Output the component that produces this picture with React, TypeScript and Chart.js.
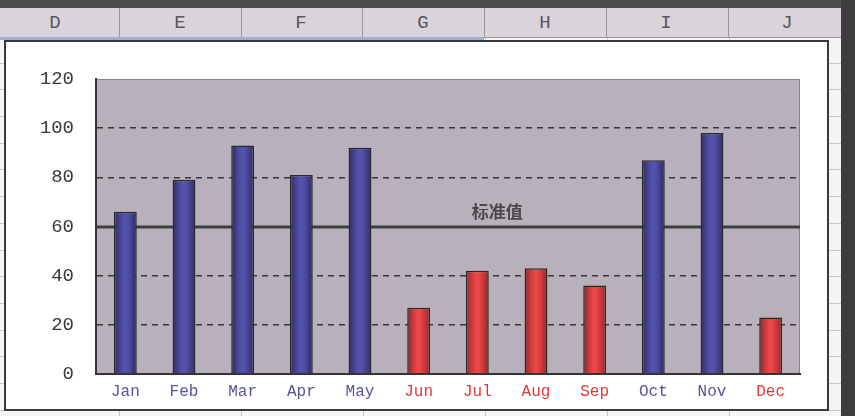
import React, { useEffect, useRef } from "react";
import { Chart, registerables } from "chart.js";

Chart.register(...registerables);

const months = ["Jan", "Feb", "Mar", "Apr", "May", "Jun", "Jul", "Aug", "Sep", "Oct", "Nov", "Dec"];
const values = [66, 79, 93, 81, 92, 27, 42, 43, 36, 87, 98, 23];
const standardValue = 60;
const standardLabel = "标准值";
const yMin = 0;
const yMax = 120;
const yStep = 20;
const columnLetters = ["D", "E", "F", "G", "H", "I", "J"];

const BLUE_TEXT = "#55529f";
const RED_TEXT = "#e2383a";
const BAR_PCT = 0.39;

function isAbove(v: number) {
  return v >= standardValue;
}

const plotPlugin = {
  id: "plotDecor",
  beforeDraw(chart: any) {
    const { ctx, chartArea } = chart;
    ctx.save();
    ctx.fillStyle = "#b8b0ba";
    ctx.fillRect(chartArea.left, chartArea.top, chartArea.right - chartArea.left, chartArea.bottom - chartArea.top);
    ctx.strokeStyle = "#8a8490";
    ctx.lineWidth = 1;
    ctx.beginPath();
    ctx.moveTo(chartArea.left, chartArea.top + 0.5);
    ctx.lineTo(chartArea.right - 0.5, chartArea.top + 0.5);
    ctx.lineTo(chartArea.right - 0.5, chartArea.bottom);
    ctx.stroke();
    ctx.restore();
  },
  beforeDatasetsDraw(chart: any) {
    const { ctx, chartArea, scales } = chart;
    const y = Math.round(scales.y.getPixelForValue(standardValue));
    ctx.save();
    ctx.strokeStyle = "#3e3e42";
    ctx.lineWidth = 3;
    ctx.beginPath();
    ctx.moveTo(chartArea.left, y);
    ctx.lineTo(chartArea.right, y);
    ctx.stroke();
    ctx.fillStyle = "#48474c";
    ctx.font = "bold 17px 'Noto Sans CJK SC'";
    ctx.textAlign = "center";
    ctx.textBaseline = "middle";
    const lx = chartArea.left + (chartArea.right - chartArea.left) * 0.57;
    ctx.fillText(standardLabel, lx, y - 15);
    ctx.restore();
  },
};

function barGradient(ctx: any) {
  const v = values[ctx.dataIndex];
  const above = isAbove(v);
  const chart = ctx.chart;
  const xs = chart.scales && chart.scales.x;
  const mid = above ? "#5552ab" : "#ec4646";
  if (!xs || ctx.type !== "data" || !isFinite(xs.width)) return mid;
  const cx = xs.getPixelForValue(ctx.dataIndex);
  const w = (xs.width / months.length) * BAR_PCT;
  const g = chart.ctx.createLinearGradient(cx - w / 2, 0, cx + w / 2, 0);
  if (above) {
    g.addColorStop(0, "#2c2a58");
    g.addColorStop(0.3, "#4a489c");
    g.addColorStop(0.5, "#5754ae");
    g.addColorStop(0.7, "#4a489c");
    g.addColorStop(1, "#2c2a58");
  } else {
    g.addColorStop(0, "#8a2a2c");
    g.addColorStop(0.3, "#d83c3e");
    g.addColorStop(0.5, "#ee4a4a");
    g.addColorStop(0.7, "#d83c3e");
    g.addColorStop(1, "#8a2a2c");
  }
  return g;
}

function ChartBox() {
  const ref = useRef<HTMLCanvasElement>(null);
  useEffect(() => {
    if (!ref.current) return;
    const chart = new Chart(ref.current, {
      type: "bar",
      data: {
        labels: months,
        datasets: [
          {
            data: values,
            backgroundColor: barGradient as any,
            borderColor: "#2a2a2e",
            borderWidth: 1.5,
            categoryPercentage: 1,
            barPercentage: BAR_PCT,
          },
        ],
      },
      options: {
        animation: false,
        responsive: false,
        maintainAspectRatio: false,
        layout: { padding: { top: 37, right: 27, left: 0, bottom: 0 } },
        plugins: { legend: { display: false }, tooltip: { enabled: false } },
        scales: {
          x: {
            grid: { display: false, drawTicks: false },
            border: { color: "#333338", width: 2 },
            afterFit: (s: any) => {
              s.height = 35;
            },
            ticks: {
              padding: 8,
              color: months.map((_, i) => (isAbove(values[i]) ? BLUE_TEXT : RED_TEXT)),
              font: { family: "'Liberation Mono', monospace", size: 16 },
            },
          },
          y: {
            min: yMin,
            max: yMax,
            afterFit: (s: any) => {
              s.width = 90;
            },
            ticks: {
              stepSize: yStep,
              padding: 22,
              color: "#3a3a3a",
              font: { family: "'Liberation Mono', monospace", size: 19 },
            },
            grid: {
              drawTicks: false,
              color: (c: any) => {
                const v = c.tick && c.tick.value;
                if (v === yMin || v === yMax || v === standardValue) return "rgba(0,0,0,0)";
                return "#38363c";
              },
              lineWidth: 1.5,
            },
            border: { color: "#333338", width: 2, dash: [6, 5] },
          },
        },
      },
      plugins: [plotPlugin],
    });
    return () => chart.destroy();
  }, []);
  return <canvas ref={ref} width={821} height={367} style={{ display: "block" }} />;
}

export default function App() {
  const dividers = [119, 241, 362, 484, 606, 728, 850];
  const centers = [55, 180, 301, 423, 545, 666, 787];
  return (
    <div
      style={{
        position: "absolute",
        left: 0,
        top: 0,
        width: 855,
        height: 416,
        overflow: "hidden",
        background: "#f6f5f6",
        backgroundImage:
          "repeating-linear-gradient(to bottom, transparent 0px, transparent 25.7px, #c9c7cb 25.7px, #c9c7cb 26.7px), repeating-linear-gradient(to right, transparent 0px, transparent 121px, #c9c7cb 121px, #c9c7cb 122px)",
        backgroundPosition: "0px 37px, -2px 0px",
      }}
    >
      <div style={{ position: "absolute", left: 0, top: 0, width: 855, height: 8, background: "#4d4b4d" }} />
      <div
        style={{
          position: "absolute",
          left: 0,
          top: 8,
          width: 855,
          height: 29,
          background: "#d9d4d9",
          borderBottom: "1px solid #9a969c",
        }}
      >
        {dividers.map((x, i) => (
          <div key={"d" + i} style={{ position: "absolute", left: x, top: 0, width: 1, height: 29, background: "#9c979e" }} />
        ))}
        {columnLetters.map((c, i) => (
          <div
            key={c}
            style={{
              position: "absolute",
              left: centers[i] - 20,
              width: 40,
              top: 4,
              textAlign: "center",
              fontFamily: "'Liberation Mono', monospace",
              fontSize: 19,
              color: "#5a575c",
              lineHeight: "22px",
            }}
          >
            {c}
          </div>
        ))}
      </div>
      <div style={{ position: "absolute", left: 0, top: 37, width: 484, height: 3, background: "#9fb0d4" }} />
      <div style={{ position: "absolute", left: 841, top: 0, width: 14, height: 416, background: "#3e3c3e" }} />
      <div
        style={{
          position: "absolute",
          left: 4,
          top: 40,
          width: 821,
          height: 367,
          border: "2px solid #3a3a3e",
          background: "#ffffff",
        }}
      >
        <ChartBox />
      </div>
    </div>
  );
}
